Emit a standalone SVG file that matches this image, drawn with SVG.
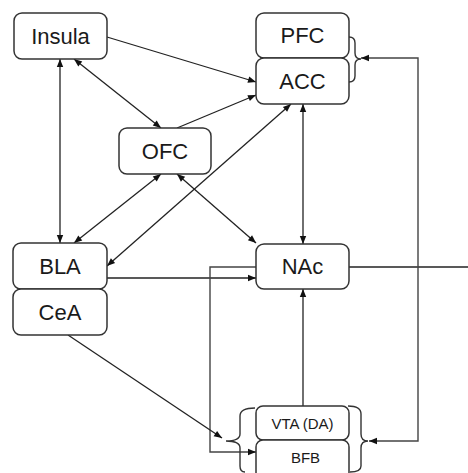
<svg xmlns="http://www.w3.org/2000/svg" width="468" height="473" viewBox="0 0 468 473">
<style>
.box{fill:#fff;stroke:#333;stroke-width:1.5}
.lbl{font-family:"Liberation Sans",Arial,sans-serif;font-size:22px;fill:#1a1a1a;text-anchor:middle}
.sm{font-size:15px}
.e{fill:none;stroke:#222;stroke-width:1.3}
.g{fill:none;stroke:#444;stroke-width:1.4}
.br{fill:none;stroke:#333;stroke-width:1.4}
</style>
<defs>
<marker id="a" viewBox="0 0 10 10" refX="10" refY="5" markerWidth="9" markerHeight="8" markerUnits="userSpaceOnUse" orient="auto-start-reverse">
<path d="M0,1 L10,5 L0,9 z" fill="#111"/>
</marker>
</defs>
<g id="connectors">
<line class="e" x1="107" y1="37" x2="256" y2="82" marker-end="url(#a)"/>
<line class="e" x1="177" y1="128" x2="256" y2="95" marker-end="url(#a)"/>
<line class="e" x1="74" y1="59" x2="161" y2="128" marker-start="url(#a)" marker-end="url(#a)"/>
<line class="e" x1="60" y1="59" x2="60" y2="243" marker-start="url(#a)" marker-end="url(#a)"/>
<line class="e" x1="74" y1="243" x2="161" y2="174" marker-start="url(#a)" marker-end="url(#a)"/>
<line class="e" x1="107" y1="266" x2="291" y2="104" marker-start="url(#a)" marker-end="url(#a)"/>
<line class="e" x1="177" y1="174" x2="256" y2="243" marker-start="url(#a)" marker-end="url(#a)"/>
<line class="e" x1="303" y1="104" x2="303" y2="244" marker-start="url(#a)" marker-end="url(#a)"/>
<line class="e" x1="107" y1="278" x2="256" y2="278" marker-end="url(#a)"/>
<polyline class="g" points="256,267 210,267 210,452 256,452" marker-end="url(#a)"/>
<line class="e" x1="68" y1="335" x2="222" y2="438" marker-end="url(#a)"/>
<line class="e" x1="303" y1="406" x2="303" y2="289" marker-end="url(#a)"/>
<line class="e" x1="349" y1="267" x2="468" y2="267"/>
<polyline class="g" points="361,58 418,58 418,441 369,441" marker-start="url(#a)" marker-end="url(#a)"/>
</g>
<g id="braces">
<path class="br" d="M349,37 Q355,37 355,43 L355,53 Q355,59 361,59 Q355,59 355,65 L355,76 Q355,82 349,82"/>
<path class="br" d="M255,408 Q240,408 240,416 L240,434 Q240,441 226,441 Q240,441 240,448 L240,466 Q240,472 245,472"/>
<path class="br" d="M348,406 Q361,406 361,414 L361,434 Q361,441 368,441 Q361,441 361,448 L361,466 Q361,472 350,472"/>
</g>
<g id="Insula"><rect class="box" x="14" y="13" width="93" height="46" rx="8"/><text class="lbl" x="60.5" y="44">Insula</text></g>
<g id="PFC"><rect class="box" x="256" y="13" width="93" height="45" rx="8"/><text class="lbl" x="302.5" y="43">PFC</text></g>
<g id="ACC"><rect class="box" x="256" y="58" width="93" height="46" rx="8"/><text class="lbl" x="302.5" y="89">ACC</text></g>
<g id="OFC"><rect class="box" x="119" y="128" width="92" height="46" rx="8"/><text class="lbl" x="165" y="159">OFC</text></g>
<g id="BLA"><rect class="box" x="13" y="243" width="94" height="46" rx="8"/><text class="lbl" x="60" y="274">BLA</text></g>
<g id="CeA"><rect class="box" x="13" y="289" width="94" height="46" rx="8"/><text class="lbl" x="60" y="320">CeA</text></g>
<g id="NAc"><rect class="box" x="256" y="244" width="93" height="45" rx="8"/><text class="lbl" x="302.5" y="274">NAc</text></g>
<g id="VTA"><rect class="box" x="256" y="406" width="93" height="34" rx="7"/><text class="lbl sm" x="302.5" y="429">VTA (DA)</text></g>
<g id="BFB"><rect class="box" x="256" y="440" width="93" height="40" rx="7"/><text class="lbl sm" x="305.5" y="463">BFB</text></g>
</svg>
